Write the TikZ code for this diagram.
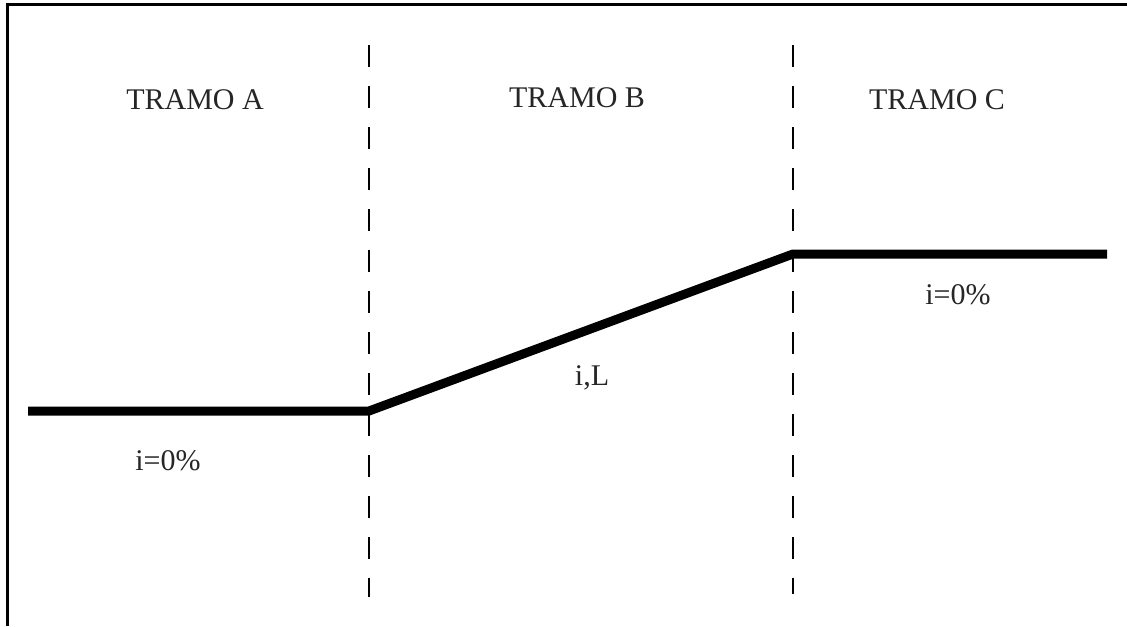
\documentclass[tikz,border=0pt]{standalone}
\usepackage{fontspec}
\setmainfont{Liberation Serif}
\usetikzlibrary{positioning}

\begin{document}
\begin{tikzpicture}[
    x=0.5pt, y=-0.5pt,
    frame/.style={line width=1.5pt, black},
    divider/.style={line width=0.7pt, dash pattern=on 11pt off 9.5pt},
    grade/.style={line width=4.5pt, line cap=butt, line join=miter},
    tag/.style={font=\fontsize{15}{17}\selectfont, text=black!85, inner sep=0pt},
]
    \useasboundingbox (0,0) rectangle (1127,626);

    % Frame (open at right and bottom)
    \draw[frame] (7,626) -- (7,5) -- (1127,5);

    % Section dividers
    \coordinate (divAtop) at (369,45);
    \coordinate (divAbot) at (369,597);
    \coordinate (divBtop) at (793,45);
    \coordinate (divBbot) at (793,594);
    \draw[divider] (divAtop) -- (divAbot);
    \draw[divider] (divBtop) -- (divBbot);

    % Road profile
    \coordinate (start) at (28,411);
    \coordinate (kneeA) at (369,411);
    \coordinate (kneeB) at (793,254);
    \coordinate (stop)  at (1107,254);
    \draw[grade] (start) -- (kneeA) -- (kneeB) -- (stop);

    % Labels
    \node[tag] (tramoA) at (195,100) {TRAMO A};
    \node[tag] (tramoB) at (577,98)  {TRAMO B};
    \node[tag] (tramoC) at (937,100) {TRAMO C};
    \node[tag] (slopeA) at (168,461) {i=0\%};
    \node[tag] (slopeB) at (592,378) {i,L};
    \node[tag] (slopeC) at (958,295) {i=0\%};
\end{tikzpicture}
\end{document}
